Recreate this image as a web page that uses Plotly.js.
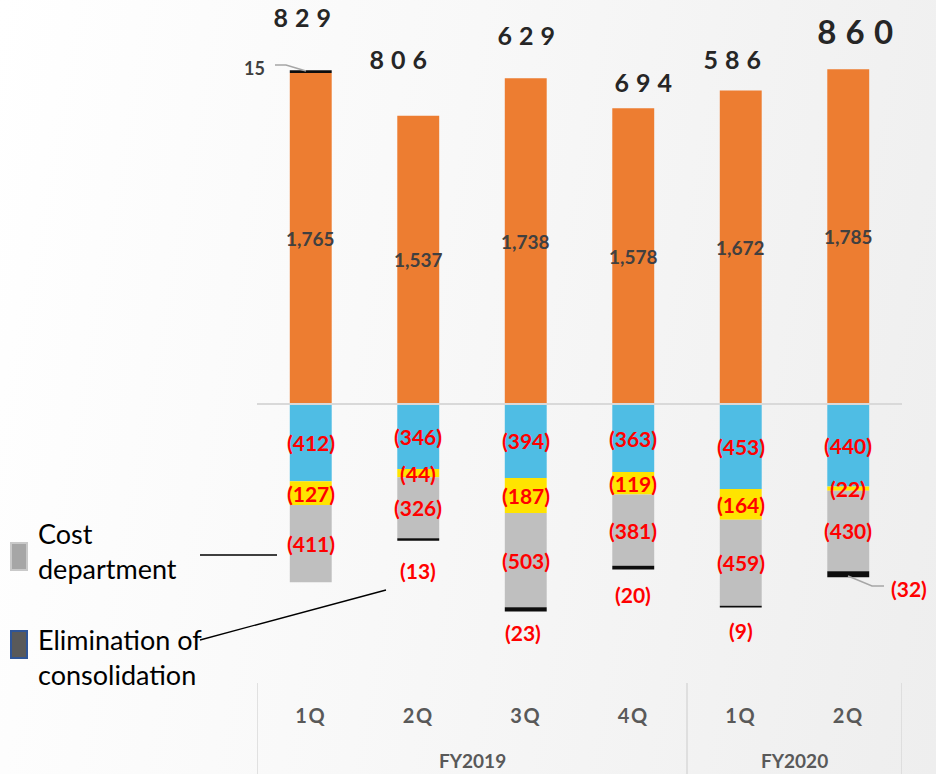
<!DOCTYPE html>
<html>
<head>
<meta charset="utf-8">
<script src="https://cdn.plot.ly/plotly-3.0.1.min.js"></script>
<style>
  html, body { margin: 0; padding: 0; }
  body { width: 936px; height: 774px; background: linear-gradient(100deg, #ffffff 0%, #f8f8f8 45%, #eeeeee 100%); }
  #chart { width: 936px; height: 774px; }
</style>
</head>
<body>
<div id="chart"></div>
<script>
// ---- data ----
const quarters = ['1Q', '2Q', '3Q', '4Q', '1Q', '2Q'];
const fiscalYears = ['FY2019', 'FY2020'];
const fiscalYearSpan = [4, 2];
const segmentProfit = [1765, 1537, 1738, 1578, 1672, 1785];
const blueSegment = [-412, -346, -394, -363, -453, -440];
const yellowSegment = [-127, -44, -187, -119, -164, -22];
const costDepartment = [-411, -326, -503, -381, -459, -430];
const elimination = [15, -13, -23, -20, -9, -32];
const totals = [829, 806, 629, 694, 586, 860];
const legendLabels = ['Cost<br>department', 'Elimination of<br>consolidation'];

// ---- styling / placement (pixels) ----
const L = 257, R = 902, T = 0, B = 683;
const PX = x => (x - L) / (R - L);
const PY = y => (B - y) / (B - T);
const FONT = 'Lato, "Open Sans", sans-serif';
const totalDx = [-9, -20, 0, 10, -9, 7];
const totalDy = [53, 57, 43, 26, 32, 38];
const totalSize = [25, 25, 25, 25, 25, 33];
const elimDx = [-56, 0, -3, 0, 0, 61];
const elimDy = [2, -30, -21, -25, -23, -11];

const xs = quarters.map((_, i) => i);
const fmtNeg = v => '(' + Math.abs(v).toLocaleString('en-US') + ')';

function bar(y, color) {
  return {
    type: 'bar', x: xs, y: y, marker: { color: color, line: { width: 0 } },
    hoverinfo: 'skip', showlegend: false
  };
}

const traces = [
  bar(segmentProfit, '#ED7D31'),
  bar(blueSegment, '#4FBDE4'),
  bar(yellowSegment, '#FFE400'),
  bar(costDepartment, '#BFBFBF'),
  bar(elimination, '#0D0D0D')
];

const annotations = [];
const red = { family: FONT, size: 21, color: '#FF0000', weight: 'bold' };
const dark = { family: FONT, size: 19, color: '#404040', weight: 'bold' };

xs.forEach(i => {
  // positive segment label
  annotations.push({ x: i, y: segmentProfit[i] / 2, text: segmentProfit[i].toLocaleString('en-US'),
    showarrow: false, font: dark });
  // negative segment labels at segment centers
  const b = blueSegment[i], yv = yellowSegment[i], c = costDepartment[i];
  annotations.push({ x: i, y: b / 2, text: fmtNeg(b), showarrow: false, font: red });
  annotations.push({ x: i, y: b + yv / 2, text: fmtNeg(yv), showarrow: false, font: red });
  annotations.push({ x: i, y: b + yv + c / 2, text: fmtNeg(c), showarrow: false, font: red });
  // elimination labels
  const e = elimination[i];
  if (e >= 0) {
    annotations.push({ x: i, y: segmentProfit[i] + e, text: String(e), showarrow: false,
      xshift: elimDx[i], yshift: elimDy[i], yanchor: 'middle',
      font: { family: FONT, size: 18, color: '#404040', weight: 'bold' } });
  } else {
    annotations.push({ x: i, y: b + yv + c + e, text: fmtNeg(e), showarrow: false,
      xshift: elimDx[i], yshift: elimDy[i], yanchor: 'middle', font: red });
  }
  // totals above bars
  const top = segmentProfit[i] + Math.max(e, 0);
  annotations.push({ x: i, y: top, text: String(totals[i]), showarrow: false,
    xshift: totalDx[i] + 4, yshift: totalDy[i], yanchor: 'middle',
    font: { family: FONT, size: totalSize[i], color: '#262626', weight: 'bold' } });
});

// fiscal year group labels
let start = 0;
fiscalYears.forEach((fy, k) => {
  const span = fiscalYearSpan[k];
  annotations.push({ x: start + (span - 1) / 2, xref: 'x', y: PY(760), yref: 'paper',
    text: fy, showarrow: false, yanchor: 'middle',
    font: { family: FONT, size: 19, color: '#595959', weight: 'bold' } });
  start += span;
});

// manual legend
annotations.push({ x: PX(36), xref: 'paper', y: PY(551), yref: 'paper', xanchor: 'left', yanchor: 'middle',
  align: 'left', text: legendLabels[0], showarrow: false, font: { family: FONT, size: 27, color: '#000000' } });
annotations.push({ x: PX(36), xref: 'paper', y: PY(657), yref: 'paper', xanchor: 'left', yanchor: 'middle',
  align: 'left', text: legendLabels[1], showarrow: false, font: { family: FONT, size: 27, color: '#000000' } });

const shapes = [
  // zero line over bars
  { type: 'line', xref: 'x', yref: 'y', x0: -0.5, x1: 5.5, y0: 0, y1: 0, layer: 'above',
    line: { color: '#D9D9D9', width: 2 } },
  // legend swatches
  { type: 'rect', xref: 'paper', yref: 'paper', x0: PX(11), x1: PX(27), y0: PY(570), y1: PY(543),
    fillcolor: '#A6A6A6', line: { color: '#C9C9C9', width: 2 } },
  { type: 'rect', xref: 'paper', yref: 'paper', x0: PX(11), x1: PX(27), y0: PY(658), y1: PY(631),
    fillcolor: '#595959', line: { color: '#2F5597', width: 2 } },
  // legend connector lines
  { type: 'line', xref: 'paper', yref: 'paper', x0: PX(200), x1: PX(277), y0: PY(555), y1: PY(555),
    line: { color: '#000000', width: 1.3 } },
  { type: 'line', xref: 'paper', yref: 'paper', x0: PX(200), x1: PX(386), y0: PY(640), y1: PY(590),
    line: { color: '#000000', width: 1.3 } },
  // leader lines
  { type: 'path', xref: 'paper', yref: 'paper',
    path: `M ${PX(275)} ${PY(65)} L ${PX(286)} ${PY(65)} L ${PX(306)} ${PY(71)}`,
    line: { color: '#A6A6A6', width: 1.5 } },
  { type: 'path', xref: 'paper', yref: 'paper',
    path: `M ${PX(848)} ${PY(576)} L ${PX(872)} ${PY(586)} L ${PX(884)} ${PY(586)}`,
    line: { color: '#A6A6A6', width: 1.5 } }
];
// category dividers
[-0.5, 3.5, 5.5].forEach(xv => shapes.push({ type: 'line', xref: 'x', yref: 'paper', x0: xv, x1: xv,
  y0: 0, y1: PY(774), line: { color: '#D9D9D9', width: 1.5 } }));

const layout = {
  width: 936, height: 774,
  margin: { l: L, r: 936 - R, t: T, b: 774 - B, pad: 0 },
  paper_bgcolor: 'rgba(0,0,0,0)', plot_bgcolor: 'rgba(0,0,0,0)',
  barmode: 'relative', bargap: 0.61,
  showlegend: false,
  xaxis: { range: [-0.5, 5.5], tickvals: xs, ticktext: quarters, ticks: '', showgrid: false,
    zeroline: false, showline: false, ticklabelstandoff: 19,
    tickfont: { family: FONT, size: 20, color: '#595959', weight: 'bold' } },
  yaxis: { range: [-(B - 404) / 0.1875, 404 / 0.1875], visible: false, showgrid: false, zeroline: false },
  annotations: annotations, shapes: shapes,
  font: { family: FONT }
};

Plotly.newPlot('chart', traces, layout, { staticPlot: true }).then(() => {
  const totalStrs = totals.map(String);
  document.querySelectorAll('.annotation-text').forEach(t => {
    if (totalStrs.includes(t.textContent)) t.style.letterSpacing = '0.28em';
  });
  document.querySelectorAll('.xtick text').forEach(t => { t.style.letterSpacing = '0.08em'; });
});
</script>
</body>
</html>
